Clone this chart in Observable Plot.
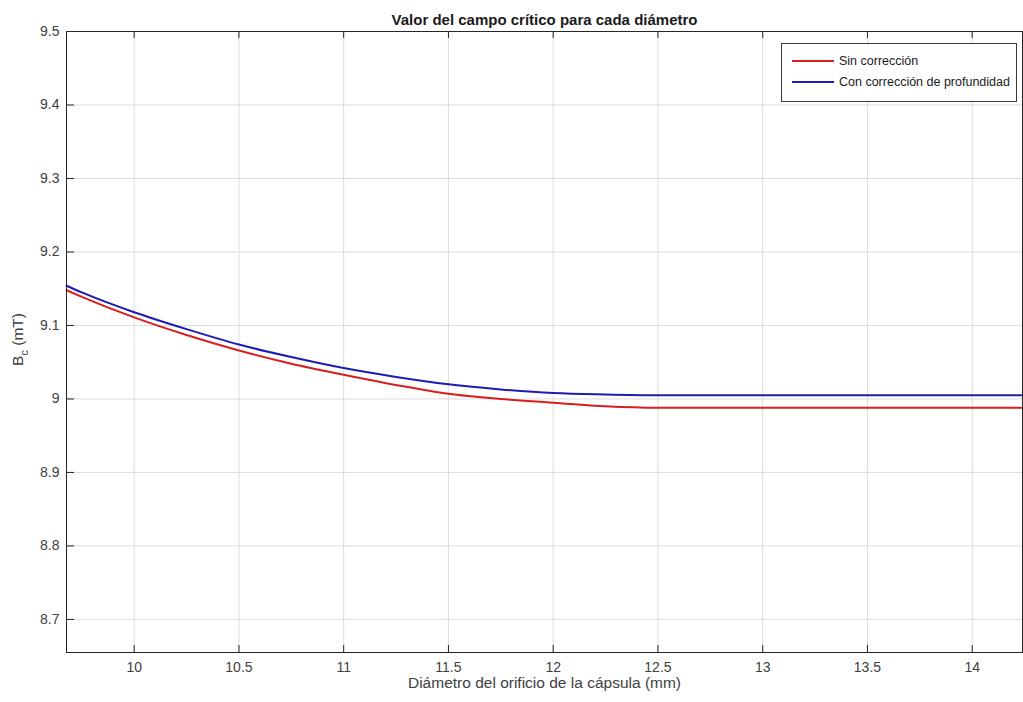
<!DOCTYPE html>
<html>
<head>
<meta charset="utf-8">
<script src="https://cdn.jsdelivr.net/npm/d3@7"></script>
<script src="https://cdn.jsdelivr.net/npm/@observablehq/plot@0.6"></script>
<style>
  html, body { margin: 0; padding: 0; background: #fff; }
  #wrap { position: relative; width: 1023px; height: 702px; font-family: "Liberation Sans", Arial, sans-serif; }
  #legend { position: absolute; left: 781px; top: 43px; width: 236px; height: 59px; border: 1px solid #3a3a3a; background: #fff; box-sizing: border-box; font-size: 12.5px; color: #1a1a1a; }
  .item { position: absolute; left: 10px; display: flex; align-items: center; white-space: nowrap; }
  .sw { width: 42px; height: 2px; margin-right: 5px; }
</style>
</head>
<body>
<div id="wrap"></div>
<script>
// Data
const diametro = [9.677, 9.75, 10, 10.25, 10.5, 10.75, 11, 11.25, 11.5, 11.75, 12, 12.25, 12.5, 13, 13.5, 14, 14.24];
const sinCorreccion = [9.148, 9.139, 9.111, 9.087, 9.066, 9.048, 9.033, 9.019, 9.007, 9.000, 8.995, 8.990, 8.988, 8.988, 8.988, 8.988, 8.988];
const conCorreccion = [9.154, 9.145, 9.118, 9.095, 9.074, 9.057, 9.042, 9.030, 9.020, 9.013, 9.008, 9.006, 9.005, 9.005, 9.005, 9.005, 9.005];
const seriesNames = ["Sin corrección", "Con corrección de profundidad"];
const seriesColors = ["#d81e1e", "#1c1cb4"];
const xTicks = [10, 10.5, 11, 11.5, 12, 12.5, 13, 13.5, 14];
const yTicks = [8.7, 8.8, 8.9, 9.0, 9.1, 9.2, 9.3, 9.4, 9.5];
const xDomain = [9.677, 14.24];
const yDomain = [8.655, 9.5];
const titleText = "Valor del campo crítico para cada diámetro";
const xLabel = "Diámetro del orificio de la cápsula (mm)";

const rows = [];
diametro.forEach((d, i) => {
  rows.push({x: d, y: sinCorreccion[i], s: seriesNames[0]});
  rows.push({x: d, y: conCorreccion[i], s: seriesNames[1]});
});

const W = 1023, H = 702, mL = 66, mR = 1, mT = 31, mB = 50;
const pw = W - mL - mR, ph = H - mT - mB;
const axisColor = "#262626";
const font = "Liberation Sans, Arial, sans-serif";

const chart = Plot.plot({
  width: W, height: H,
  marginLeft: mL, marginRight: mR, marginTop: mT, marginBottom: mB,
  style: {fontFamily: font, background: "#fff", overflow: "visible"},
  x: {domain: xDomain},
  y: {domain: yDomain},
  color: {domain: seriesNames, range: seriesColors},
  marks: [
    Plot.gridX(xTicks, {stroke: "#dcdcdc", strokeOpacity: 1, strokeWidth: 1}),
    Plot.gridY(yTicks, {stroke: "#dcdcdc", strokeOpacity: 1, strokeWidth: 1}),
    Plot.line(rows, {x: "x", y: "y", z: "s", stroke: "s", strokeWidth: 2, curve: "monotone-x"}),
    Plot.frame({stroke: axisColor, strokeWidth: 1}),
    Plot.tickX(xTicks, {x: d => d, stroke: axisColor, insetTop: ph - 7}),
    Plot.tickX(xTicks, {x: d => d, stroke: axisColor, insetBottom: ph - 7}),
    Plot.tickY(yTicks, {y: d => d, stroke: axisColor, insetRight: pw - 8}),
    Plot.axisX(xTicks, {tickSize: 0, tickPadding: 10, fontSize: 14, fill: "#404040", label: null, tickFormat: d => String(d)}),
    Plot.axisY(yTicks, {tickSize: 0, tickPadding: 7, fontSize: 14, fill: "#404040", label: null, tickFormat: d => String(+d.toFixed(1))}),
    Plot.text([xLabel], {frameAnchor: "bottom", dy: 35, lineAnchor: "bottom", fontSize: 15.5, fill: "#404040", text: d => d}),
    Plot.text([titleText], {frameAnchor: "top", dy: -7, lineAnchor: "bottom", fontSize: 15, fontWeight: "bold", fill: "#1a1a1a", text: d => d})
  ]
});

// Y axis label with subscript
const svg = d3.select(chart);
const yl = svg.append("text")
  .attr("transform", `translate(23,${mT + ph / 2 - 2}) rotate(-90)`)
  .attr("text-anchor", "middle")
  .attr("font-family", font)
  .attr("font-size", 15.5)
  .attr("fill", "#404040");
yl.append("tspan").text("B");
yl.append("tspan").attr("font-size", 11).attr("dy", 5).text("c");
yl.append("tspan").attr("dy", -5).text(" (mT)");

const wrap = document.getElementById("wrap");
wrap.appendChild(chart);

// Legend
const leg = document.createElement("div");
leg.id = "legend";
seriesNames.forEach((n, i) => {
  const it = document.createElement("div");
  it.className = "item";
  it.style.top = (i === 0 ? 10 : 31) + "px";
  const sw = document.createElement("span");
  sw.className = "sw";
  sw.style.background = seriesColors[i];
  const tx = document.createElement("span");
  tx.textContent = n;
  it.appendChild(sw); it.appendChild(tx);
  leg.appendChild(it);
});
wrap.appendChild(leg);
</script>
</body>
</html>
